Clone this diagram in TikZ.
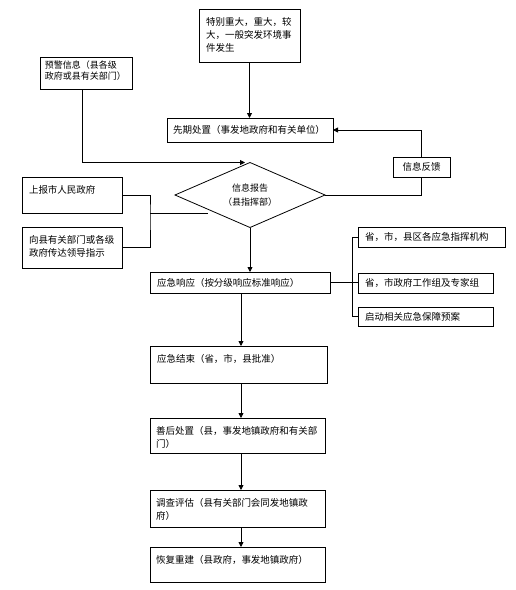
\documentclass[tikz,border=0pt]{standalone}
\usepackage{fontspec}
\newfontfamily\cn{Noto Sans CJK SC}
\usetikzlibrary{shapes.geometric,arrows.meta}
\newcommand\tbtext[3]{\parbox[t][#2][t]{#1}{#3}}
\begin{document}
\begin{tikzpicture}[x=1pt,y=-1pt,
 base/.style={draw=black, line width=0.8pt, outer sep=0pt, font={\cn\fontsize{9.5}{13}\selectfont}},
 tbox/.style={base, anchor=north west, inner xsep=7pt, inner ysep=8pt},
 sbox/.style={base, anchor=north west, inner xsep=7pt, inner ysep=0pt, align=left},
 ln/.style={line width=0.8pt},
 arr/.style={ln, -{Triangle[width=5pt,length=5pt]}}]
\useasboundingbox[fill=white] (0,0) rectangle (515,590);

\node[tbox] (top) at (199,9) {\tbtext{87pt}{37pt}{特别重大，重大，较\\大，一般突发环境事\\件发生}};
\node[tbox, inner xsep=5pt, inner ysep=4pt, font={\cn\fontsize{9}{11}\selectfont}] (yj) at (40,57) {\tbtext{82pt}{24pt}{预警信息（县各级\\政府或县有关部门）}};
\node[sbox, text width=154pt, minimum height=24pt, inner xsep=6pt] (xq) at (167,118) {先期处置（事发地政府和有关单位）};
\node[base, diamond, minimum width=150pt, minimum height=65pt, inner sep=0pt, shape aspect=2.3, align=center, font={\cn\fontsize{9}{14}\selectfont}] (dm) at (250,195) {信息报告\\（县指挥部）};
\node[tbox] (sb) at (22,177) {\tbtext{86pt}{20pt}{上报市人民政府}};
\node[tbox] (cd) at (22,227) {\tbtext{86pt}{25pt}{向县有关部门或各级\\政府传达领导指示}};
\node[base, minimum width=57pt, minimum height=20pt, inner sep=0pt] (fk) at (421.5,167) {信息反馈};
\node[sbox, text width=133pt, minimum height=20pt] (r1) at (358,227) {省，市，县区各应急指挥机构};
\node[sbox, text width=121pt, minimum height=20pt] (r2) at (358,273) {省，市政府工作组及专家组};
\node[sbox, text width=121pt, minimum height=19pt] (r3) at (358,307) {启动相关应急保障预案};
\node[sbox, text width=166pt, minimum height=21pt] (xy) at (150,272) {应急响应（按分级响应标准响应）};
\node[tbox] (js) at (150,346) {\tbtext{163pt}{21pt}{应急结束（省，市，县批准）}};
\node[tbox, inner xsep=6pt] (sh) at (150,418) {\tbtext{163pt}{19pt}{善后处置（县，事发地镇政府和有关部\\门）}};
\node[tbox, inner xsep=6pt] (dc) at (150,490) {\tbtext{163pt}{21pt}{调查评估（县有关部门会同发地镇政\\府）}};
\node[tbox, inner xsep=6pt] (hf) at (150,547) {\tbtext{163pt}{19pt}{恢复重建（县政府，事发地镇政府）}};

\coordinate (ax) at (241,0);
\coordinate (bx) at (352,0);
\coordinate (yx) at (82,0);
\coordinate (j1) at (150,213);
\coordinate (j2) at (208,213);

\draw[arr] (top.south) -- (top.south |- xq.north);
\draw[arr] (yj.south -| yx) |- ([xshift=-5pt]dm.north);
\draw[arr] (fk.north) |- (xq.east);
\draw[ln] (fk.south) |- (dm.east);
\draw[ln] (sb.east) -| (j1) |- (cd.east);
\draw[ln] (j1) -- (j2);
\draw[arr] (dm.south) -- (dm.south |- xy.north);
\draw[ln] (xy.east) -- (xy.east -| r2.west);
\draw[ln] (r1.west) -- (r1.west -| bx) -- (r3.west -| bx) -- (r3.west);
\draw[arr] (xy.south -| ax) -- (js.north -| ax);
\draw[arr] (js.south -| ax) -- (sh.north -| ax);
\draw[arr] (sh.south -| ax) -- (dc.north -| ax);
\draw[arr] (dc.south -| ax) -- (hf.north -| ax);
\end{tikzpicture}
\end{document}
